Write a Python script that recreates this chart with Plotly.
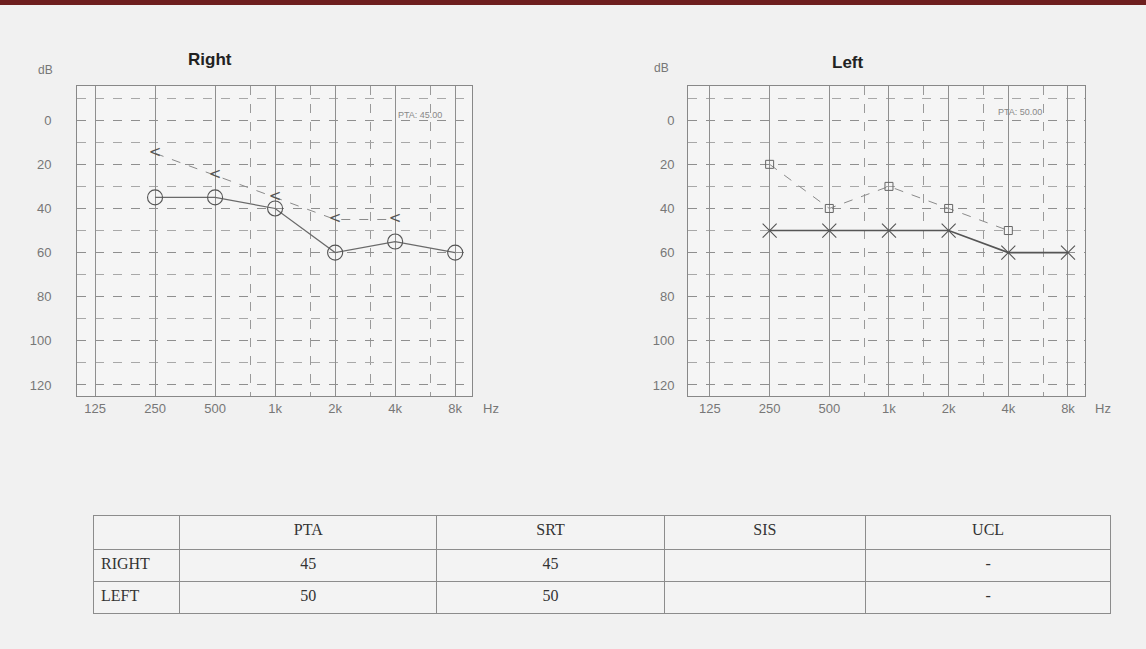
import plotly.graph_objects as go
import math

# ---------------- data ----------------
freqs = [250, 500, 1000, 2000, 4000, 8000]
right_ac = [35, 35, 40, 60, 55, 60]
bc_freqs = [250, 500, 1000, 2000, 4000]
right_bc = [15, 25, 35, 45, 45]
left_ac = [50, 50, 50, 50, 60, 60]
left_bc = [20, 40, 30, 40, 50]

x_tickvals = [125, 250, 500, 1000, 2000, 4000, 8000]
x_ticktext = ["125", "250", "500", "1k", "2k", "4k", "8k"]
x_minor = [750, 1500, 3000, 6000]
y_tickvals = [0, 20, 40, 60, 80, 100, 120]
y_minor = [-10, 10, 30, 50, 70, 90, 110]

pta_right = 45.00
pta_left = 50.00

table_header = ["", "PTA", "SRT", "SIS", "UCL"]
table_ears = ["RIGHT", "LEFT"]
table_pta = ["45", "50"]
table_srt = ["45", "50"]
table_sis = ["", ""]
table_ucl = ["-", "-"]

# ---------------- figure ----------------
W, H = 1146, 649
fig = go.Figure()

# Right ear
fig.add_trace(go.Scatter(x=freqs, y=right_ac, mode="lines+markers", xaxis="x", yaxis="y",
                         line=dict(color="#6a6a6a", width=1.2),
                         marker=dict(symbol="circle-open", size=15, color="#555", line=dict(width=1.1)),
                         showlegend=False))
fig.add_trace(go.Scatter(x=bc_freqs, y=right_bc, mode="lines+text", xaxis="x", yaxis="y",
                         text=["<"] * len(bc_freqs), textposition="middle center",
                         textfont=dict(size=15, color="#555", family="DejaVu Sans"),
                         line=dict(color="#8a8a8a", width=1, dash="dash"),
                         showlegend=False))
# Left ear
fig.add_trace(go.Scatter(x=freqs, y=left_ac, mode="lines+markers", xaxis="x2", yaxis="y2",
                         line=dict(color="#555555", width=1.6),
                         marker=dict(symbol="x-thin-open", size=14, color="#555", line=dict(width=1.1)),
                         showlegend=False))
fig.add_trace(go.Scatter(x=bc_freqs, y=left_bc, mode="lines+markers", xaxis="x2", yaxis="y2",
                         line=dict(color="#8a8a8a", width=1, dash="dash"),
                         marker=dict(symbol="square-open", size=8, color="#666", line=dict(width=1)),
                         showlegend=False))

# Table
fig.add_trace(go.Table(
    domain=dict(x=[93 / W, 1112 / W], y=[0, 1 - 515 / H]),
    columnwidth=[87, 257, 228, 201, 246],
    header=dict(values=table_header, height=34, align=["left", "center"],
                fill_color="#f3f3f3", line=dict(color="#8c8c8c", width=1),
                font=dict(family="Liberation Serif", size=16, color="#333")),
    cells=dict(values=[table_ears, table_pta, table_srt, table_sis, table_ucl], height=32,
               align=["left", "center"], fill_color="#f3f3f3",
               line=dict(color="#8c8c8c", width=1),
               font=dict(family="Liberation Serif", size=16, color="#333")),
))

oct_ = math.log10(2)

def xaxis(domain, lo, hi, anchor):
    return dict(type="log", domain=domain, anchor=anchor,
                range=[math.log10(125) + lo * oct_, math.log10(8000) + hi * oct_],
                tickvals=x_tickvals, ticktext=x_ticktext, ticks="",
                tickfont=dict(family="Liberation Sans", size=13, color="#777"),
                showgrid=True, gridcolor="#8f8f8f", gridwidth=1,
                minor=dict(tickvals=x_minor, showgrid=True, gridcolor="#9a9a9a", griddash="dash", gridwidth=1),
                showline=True, linecolor="#888", mirror=True, zeroline=False)

def yaxis(domain, anchor, standoff):
    return dict(domain=domain, range=[125, -15.5], anchor=anchor,
                tickvals=y_tickvals, ticks="", ticklabelstandoff=standoff,
                tickfont=dict(family="Liberation Sans", size=13, color="#777"),
                showgrid=True, gridcolor="#8f8f8f", gridwidth=1, griddash="dash",
                minor=dict(tickvals=y_minor, showgrid=True, gridcolor="#a8a8a8", griddash="dash", gridwidth=1),
                showline=True, linecolor="#888", mirror=True, zeroline=False)

ydom = [1 - 396 / H, 1 - 86 / H]
fig.update_layout(
    width=W, height=H,
    margin=dict(l=0, r=0, t=0, b=0),
    paper_bgcolor="#f1f1f1", plot_bgcolor="#f5f5f5",
    xaxis=xaxis([77 / W, 472 / W], -0.3, 0.28, "y"),
    yaxis=yaxis(ydom, "x", 22),
    xaxis2=xaxis([688 / W, 1085 / W], -0.368, 0.285, "y2"),
    yaxis2=yaxis(ydom, "x2", 10),
    shapes=[dict(type="rect", xref="paper", yref="paper", x0=0, x1=1, y0=1 - 5 / H, y1=1,
                 fillcolor="#6e1f1f", line=dict(width=0))],
)

def ann(x, y, text, size=13, color="#777", bold=False, family="Liberation Sans"):
    fig.add_annotation(x=x / W, y=1 - y / H, xref="paper", yref="paper",
                       text=f"<b>{text}</b>" if bold else text,
                       showarrow=False, xanchor="center", yanchor="middle",
                       font=dict(family=family, size=size, color=color))

ann(210, 60, "Right", size=17, color="#222", bold=True)
ann(848, 62, "Left", size=17, color="#222", bold=True)
ann(45, 70, "dB", size=12)
ann(661, 68, "dB", size=12)
ann(491, 408, "Hz", size=13)
ann(1103, 408, "Hz", size=13)
ann(420, 115, f"PTA: {pta_right:.2f}", size=9, color="#888")
ann(1020, 112, f"PTA: {pta_left:.2f}", size=9, color="#888")

fig.write_html("out.html", config={"displayModeBar": False},
               post_script="document.body.style.margin='0';document.body.style.background='#f1f1f1';")
